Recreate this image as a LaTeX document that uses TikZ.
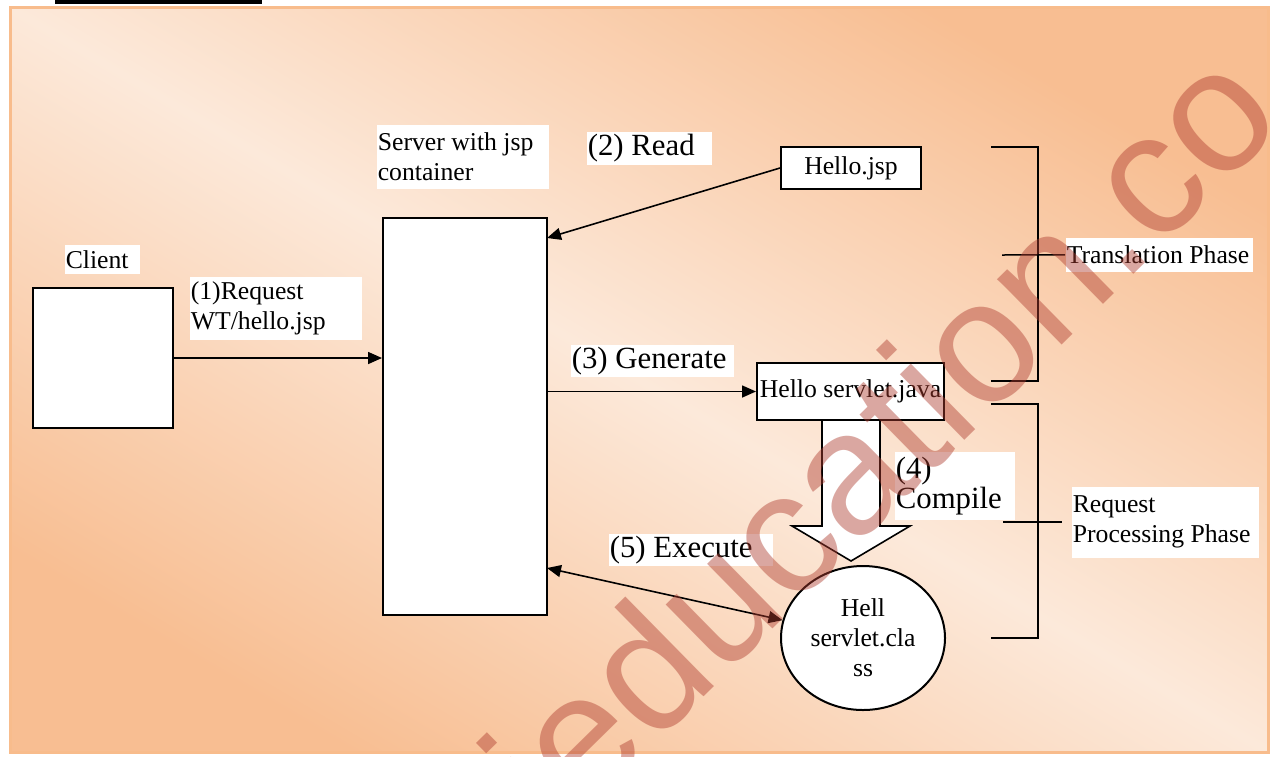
\documentclass[tikz,border=0pt]{standalone}
\usepackage{fontspec}
\setmainfont{Liberation Serif}
\newfontfamily\wmfont{Liberation Sans}
\usepackage{tikz}
\usetikzlibrary{arrows.meta, shapes.geometric, positioning}
\definecolor{bgdark}{RGB}{248,190,146}
\definecolor{bglight}{RGB}{252,233,218}
\definecolor{framec}{RGB}{248,188,140}
\definecolor{wmred}{RGB}{175,61,48}

\begin{document}
\begin{tikzpicture}[x=0.5pt,y=-0.5pt,>={Triangle[length=7pt,width=6pt]},
  line width=0.8pt,
  main node/.style={draw,fill=white,line width=1pt,inner sep=0.5pt,
    font=\fontsize{12.85}{15}\selectfont},
  lbl/.style={fill=white,anchor=north west,inner xsep=0.5pt,inner ysep=0pt,
    align=flush left,font=\fontsize{12.85}{15}\selectfont},
  big lbl/.style={lbl,font=\fontsize{15.4}{15}\selectfont},
  bracket/.style={line width=0.75pt}]
  \useasboundingbox (0,0) rectangle (1273,756);

  % background and frame
  \shade[top color=bgdark,bottom color=bgdark,middle color=bglight,shading angle=-30.6]
    (10,7) rectangle (1268,752);
  \draw[framec,line width=1.5pt] (10,7) rectangle (1268,752);
  \draw[line width=2pt] (55,1.5) -- (262,1.5);

  % phase brackets
  \draw[bracket] (991,147) -- (1038,147) -- (1038,381) -- (991,381);
  \draw[bracket] (991,404) -- (1038,404) -- (1038,638) -- (991,638);

  % compile arrow
  \draw[fill=white] (822,420) -- (822,526) -- (792,526) -- (851,561)
    -- (910,526) -- (880,526) -- (880,420);

  \node[main node,minimum width=70pt,minimum height=70pt] (client) at (103,358) {};
  \node[main node,minimum width=82pt,minimum height=198.5pt] (server) at (465,416.5) {};
  \node[main node,minimum width=70pt,minimum height=21pt] (hellojsp) at (851,168) {Hello.jsp};
  \node[main node,minimum width=93.5pt,minimum height=28.5pt] (servletjava) at (850.5,391.5) {Hello servlet.java};
  \node[main node,ellipse,minimum width=82pt,minimum height=72pt,align=center] (servletclass) at (863,638) {Hell\\servlet.cla\\ss};

  \coordinate (readend) at (547,238);
  \coordinate (execend) at (547,568);

  \draw[->] (client.east) -- (client.east -| server.west);
  \draw[->] (hellojsp.west) -- (readend);
  \draw[->] (server.east |- servletjava.west) -- (servletjava.west);
  \draw[<->] (execend) -- (servletclass);

  % labels
  \node[lbl,text width=36.5pt,minimum height=14.5pt] (clientlbl) at (64,244) {Client};
  \node[lbl,text width=85pt,minimum height=31.5pt] (reqlbl) at (189,276) {(1)Request\\WT/hello.jsp};
  \node[lbl,text width=85pt,minimum height=32pt] (serverlbl) at (376,124) {Server with jsp\\container};
  \node[big lbl,text width=61.5pt,minimum height=16.5pt] (readlbl) at (586,131) {(2) Read};
  \node[big lbl,text width=80.5pt,minimum height=16pt] (genlbl) at (570,344) {(3) Generate};
  \node[big lbl,text width=59pt,minimum height=34pt] (complbl) at (894,451) {(4)\\Compile};
  \node[big lbl,text width=81pt,minimum height=16pt] (execlbl) at (608,533) {(5) Execute};
  \node[lbl,text width=92.5pt,minimum height=17pt] (translbl) at (1065,237) {Translation Phase};
  \node[lbl,text width=92.5pt,minimum height=35.5pt] (proclbl) at (1071,486) {Request\\Processing Phase};

  \draw[bracket] (1002,255) -- (translbl.west);
  \draw[bracket] (1003,522) -- (1062,522);

  % watermark
  \begin{scope}
    \clip (0,0) rectangle (1273,756);
    \node[rotate=44.5,anchor=base west,inner sep=0pt,text=wmred,text opacity=0.45,
      font=\wmfont\fontsize{87}{87}\selectfont] (watermark) at (556,842) {ieducation.co};
  \end{scope}
\end{tikzpicture}
\end{document}
